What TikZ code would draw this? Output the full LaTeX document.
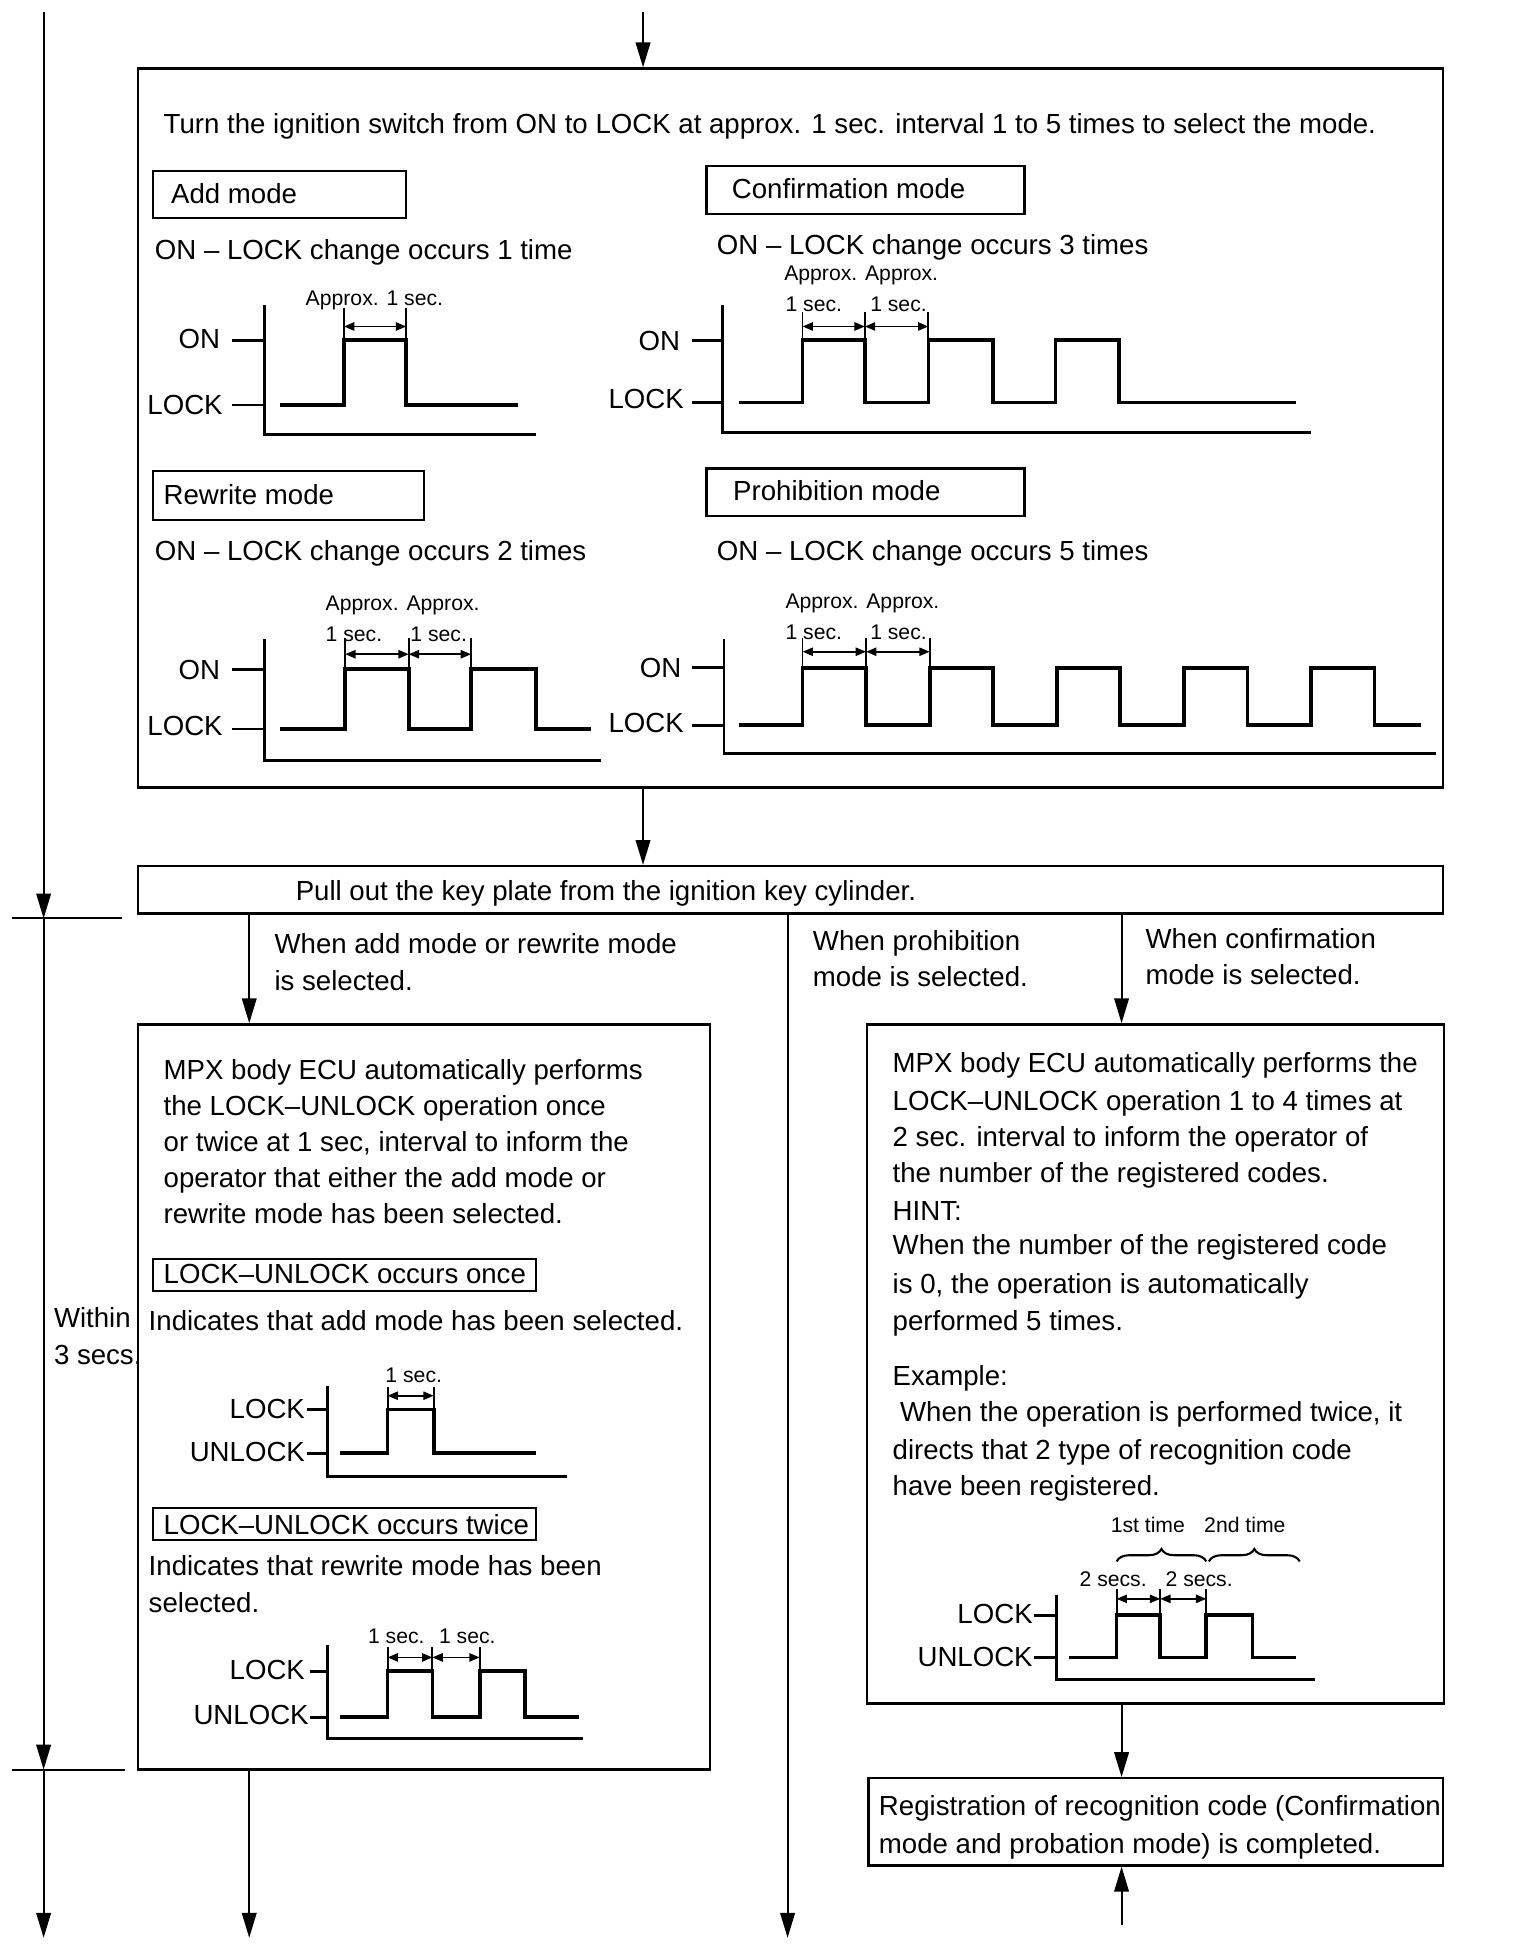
\documentclass[tikz,border=0pt]{standalone}
\usepackage{fontspec}
\setmainfont{Liberation Sans}
\usetikzlibrary{arrows.meta,fit,decorations.pathreplacing}
\newcommand\mfont{\fontsize{13.3}{16}\selectfont}
\newcommand\sfont{\fontsize{10.2}{12}\selectfont}
\begin{document}
\begin{tikzpicture}[x=0.6pt,y=-0.6pt,
 box/.style={draw,line width=1.1pt,inner sep=0pt},
 txt/.style={anchor=base west,inner sep=0pt,font=\mfont},
 lbl/.style={anchor=base east,inner sep=0pt,font=\mfont},
 sm/.style={anchor=base west,inner sep=0pt,font=\sfont},
 conn/.style={line width=1pt},
 tipd/.style={-{Triangle[length=12pt,width=7pt]}},
 wave/.style={line width=1.8pt,line join=miter},
 axisl/.style={line width=1.4pt},
 ext/.style={line width=0.9pt},
 dimarr/.style={{Triangle[length=5pt,width=4pt]}-{Triangle[length=5pt,width=4pt]},line width=0.8pt}]

\useasboundingbox (0,0) rectangle (1220,1568);
\fill[white] (0,0) rectangle (1220,1568);

% ---------- main boxes ----------
\node[box,fit={(111,55)(1158,632)}] (topbox) {};
\node[box,fit={(111,695)(1158,733)}] (key) {};
\node[box,fit={(111,822)(570,1420)}] (lbox) {};
\node[box,fit={(696,822)(1159,1367)}] (rbox) {};
\node[box,fit={(697,1427)(1158,1497)}] (fbox) {};

% mode title boxes
\node[box,fit={(123,137)(326,175)}] (addbox) {};
\node[box,fit={(567,133)(822,172)}] (confbox) {};
\node[box,fit={(123,378)(340,417)}] (rewbox) {};
\node[box,fit={(567,376)(822,414)}] (probox) {};
\node[box,fit={(123,1010)(430,1036)}] (oncebox) {};
\node[box,fit={(123,1210)(430,1236)}] (twicebox) {};

% ---------- coordinates for connectors ----------
\coordinate (c0) at (516,10);
\coordinate (c1) at (200,1555);
\coordinate (c2) at (632,1555);
\coordinate (c3) at (900,1545);
\coordinate (L0) at (35,10);
\coordinate (L1) at (35,737);
\coordinate (L2) at (35,1420);
\coordinate (L3) at (35,1555);
\coordinate (T1a) at (10,737);
\coordinate (T1b) at (98,737);
\coordinate (T2a) at (10,1420);
\coordinate (T2b) at (100,1420);

% ---------- connectors ----------
\draw[conn,tipd] (c0) -- (c0 |- topbox.north);
\draw[conn,tipd] (topbox.south -| c0) -- (c0 |- key.north);
\draw[conn,tipd] (key.south -| c1) -- (c1 |- lbox.north);
\draw[conn,tipd] (lbox.south -| c1) -- (c1);
\draw[conn,tipd] (key.south -| c2) -- (c2);
\draw[conn,tipd] (key.south -| c3) -- (c3 |- rbox.north);
\draw[conn,tipd] (rbox.south -| c3) -- (c3 |- fbox.north);
\draw[conn,tipd] (c3) -- (c3 |- fbox.south);
\draw[conn,tipd] (L0) -- (L1);
\draw[conn,tipd] (L1) -- (L2);
\draw[conn,tipd] (L2) -- (L3);
\draw[conn] (T1a) -- (T1b);
\draw[conn] (T2a) -- (T2b);

% ---------- texts ----------
\node[txt] (intro) at (131,107) {Turn the ignition switch from ON to LOCK at approx. 1 sec. interval 1 to 5 times to select the mode.};
\node[txt] (addt) at (137,163) {Add mode};
\node[txt] (adds) at (124,208) {ON -- LOCK change occurs 1 time};
\node[txt] (conft) at (587,159) {Confirmation mode};
\node[txt] (confs) at (575,204) {ON -- LOCK change occurs 3 times};
\node[txt] (rewt) at (131,405) {Rewrite mode};
\node[txt] (rews) at (124,450) {ON -- LOCK change occurs 2 times};
\node[txt] (prot) at (588,402) {Prohibition mode};
\node[txt] (pros) at (575,450) {ON -- LOCK change occurs 5 times};

\node[txt] (keyt) at (237,723) {Pull out the key plate from the ignition key cylinder.};
\node[txt] (w1a) at (220,765) {When add mode or rewrite mode};
\node[txt] (w1b) at (220,795) {is selected.};
\node[txt] (w2a) at (652,763) {When prohibition};
\node[txt] (w2b) at (652,792) {mode is selected.};
\node[txt] (w3a) at (919,761) {When confirmation};
\node[txt] (w3b) at (919,790) {mode is selected.};

\node[txt] (l1) at (131,866) {MPX body ECU automatically performs};
\node[txt] (l2) at (131,895) {the LOCK--UNLOCK operation once};
\node[txt] (l3) at (131,924) {or twice at 1 sec, interval to inform the};
\node[txt] (l4) at (131,953) {operator that either the add mode or};
\node[txt] (l5) at (131,982) {rewrite mode has been selected.};
\node[txt] (oncet) at (131,1030) {LOCK--UNLOCK occurs once};
\node[txt] (ind1) at (119,1068) {Indicates that add mode has been selected.};
\node[txt] (twicet) at (131,1231) {LOCK--UNLOCK occurs twice};
\node[txt] (ind2a) at (119,1264) {Indicates that rewrite mode has been};
\node[txt] (ind2b) at (119,1294) {selected.};
\node[txt] (within) at (43,1065) {Within};
\node[txt] (secs3) at (43,1095) {3 secs.};

\node[txt] (r1) at (716,861) {MPX body ECU automatically performs the};
\node[txt] (r2) at (716,891) {LOCK--UNLOCK operation 1 to 4 times at};
\node[txt] (r3) at (716,920) {2 sec. interval to inform the operator of};
\node[txt] (r4) at (716,949) {the number of the registered codes.};
\node[txt] (r5) at (716,979) {HINT:};
\node[txt] (r6) at (716,1007) {When the number of the registered code};
\node[txt] (r7) at (716,1038) {is 0, the operation is automatically};
\node[txt] (r8) at (716,1068) {performed 5 times.};
\node[txt] (r9) at (716,1112) {Example:};
\node[txt] (r10) at (722,1141) {When the operation is performed twice, it};
\node[txt] (r11) at (716,1171) {directs that 2 type of recognition code};
\node[txt] (r12) at (716,1200) {have been registered.};

\node[txt] (f1) at (705,1457) {Registration of recognition code (Confirmation};
\node[txt] (f2) at (705,1487) {mode and probation mode) is completed.};

% ---------- Add mode graph ----------
\node[lbl] (a-on) at (177,280) {ON};
\node[lbl] (a-lock) at (179,333) {LOCK};
\node[sm] (a-ap) at (245,245) {Approx. 1 sec.};
\draw[axisl] (212,245) -- (212,349) -- (430,349);
\draw[axisl] (186,273) -- (212,273);
\draw[axisl] (186,325) -- (212,325);
\draw[wave] (225,325) -- (276,325) -- (276,273) -- (326,273) -- (326,325) -- (416,325);
\draw[ext] (276,273) -- (276,247) (326,273) -- (326,247);
\draw[dimarr] (276,262) -- (326,262);

% ---------- Confirmation graph ----------
\node[lbl] (c-on) at (546,281) {ON};
\node[lbl] (c-lock) at (549,328) {LOCK};
\node[sm] (c-ap) at (629,225) {Approx. Approx.};
\node[sm] (c-s1) at (630,250) {1 sec.};
\node[sm] (c-s2) at (698,250) {1 sec.};
\draw[axisl] (580,245) -- (580,347) -- (1052,347);
\draw[axisl] (555,273) -- (580,273);
\draw[axisl] (555,323) -- (580,323);
\draw[wave] (593,323) -- (644,323) -- (644,273) -- (694,273) -- (694,323) -- (745,323) -- (745,273) -- (797,273) -- (797,323) -- (847,323) -- (847,273) -- (898,273) -- (898,323) -- (1040,323);
\draw[ext] (644,273) -- (644,250) (694,273) -- (694,250) (745,273) -- (745,250);
\draw[dimarr] (644,262) -- (694,262);
\draw[dimarr] (694,262) -- (745,262);

% ---------- Rewrite graph ----------
\node[lbl] (w-on) at (177,545) {ON};
\node[lbl] (w-lock) at (179,590) {LOCK};
\node[sm] (w-ap) at (261,490) {Approx. Approx.};
\node[sm] (w-s1) at (261,515) {1 sec.};
\node[sm] (w-s2) at (329,515) {1 sec.};
\draw[axisl] (212,513) -- (212,610) -- (482,610);
\draw[axisl] (186,537) -- (212,537);
\draw[axisl] (186,585) -- (212,585);
\draw[wave] (225,585) -- (277,585) -- (277,537) -- (328,537) -- (328,585) -- (378,585) -- (378,537) -- (430,537) -- (430,585) -- (474,585);
\draw[ext] (277,537) -- (277,512) (328,537) -- (328,512) (378,537) -- (378,512);
\draw[dimarr] (277,525) -- (328,525);
\draw[dimarr] (328,525) -- (378,525);

% ---------- Prohibition graph ----------
\node[lbl] (p-on) at (547,544) {ON};
\node[lbl] (p-lock) at (549,588) {LOCK};
\node[sm] (p-ap) at (630,488) {Approx. Approx.};
\node[sm] (p-s1) at (630,513) {1 sec.};
\node[sm] (p-s2) at (698,513) {1 sec.};
\draw[axisl] (581,513) -- (581,605) -- (1152,605);
\draw[axisl] (555,536) -- (581,536);
\draw[axisl] (555,582) -- (581,582);
\draw[wave] (593,582) -- (644,582) -- (644,536) -- (695,536) -- (695,582) -- (746,582) -- (746,536) -- (797,536) -- (797,582) -- (848,582) -- (848,536) -- (899,536) -- (899,582) -- (950,582) -- (950,536) -- (1001,536) -- (1001,582) -- (1052,582) -- (1052,536) -- (1103,536) -- (1103,582) -- (1140,582);
\draw[ext] (644,536) -- (644,512) (695,536) -- (695,512) (746,536) -- (746,512);
\draw[dimarr] (644,523) -- (695,523);
\draw[dimarr] (695,523) -- (746,523);

% ---------- LOCK-UNLOCK once ----------
\node[lbl] (o-lock) at (245,1138) {LOCK};
\node[lbl] (o-unlock) at (245,1173) {UNLOCK};
\node[sm] (o-s) at (309,1109) {1 sec.};
\draw[axisl] (263,1112) -- (263,1185) -- (455,1185);
\draw[axisl] (246,1131) -- (263,1131);
\draw[axisl] (246,1166) -- (263,1166);
\draw[wave] (273,1166) -- (311,1166) -- (311,1131) -- (348,1131) -- (348,1166) -- (430,1166);
\draw[ext] (311,1131) -- (311,1113) (348,1131) -- (348,1113);
\draw[dimarr] (311,1120) -- (348,1120);

% ---------- LOCK-UNLOCK twice ----------
\node[lbl] (t-lock) at (245,1348) {LOCK};
\node[lbl] (t-unlock) at (248,1384) {UNLOCK};
\node[sm] (t-s1) at (295,1319) {1 sec.};
\node[sm] (t-s2) at (352,1319) {1 sec.};
\draw[axisl] (263,1320) -- (263,1395) -- (468,1395);
\draw[axisl] (249,1341) -- (263,1341);
\draw[axisl] (249,1378) -- (263,1378);
\draw[wave] (273,1378) -- (311,1378) -- (311,1341) -- (347,1341) -- (347,1378) -- (385,1378) -- (385,1341) -- (421,1341) -- (421,1378) -- (465,1378);
\draw[ext] (311,1341) -- (311,1322) (347,1341) -- (347,1322) (385,1341) -- (385,1322);
\draw[dimarr] (311,1330) -- (347,1330);
\draw[dimarr] (347,1330) -- (385,1330);

% ---------- Confirmation example graph ----------
\node[sm] (e-1st) at (891,1230) {1st time};
\node[sm] (e-2nd) at (966,1230) {2nd time};
\draw[line width=1pt,decorate,decoration={brace,amplitude=6pt}] (896,1253) -- (968,1253);
\draw[line width=1pt,decorate,decoration={brace,amplitude=6pt}] (970,1253) -- (1043,1253);
\node[sm] (e-s1) at (866,1273) {2 secs.};
\node[sm] (e-s2) at (935,1273) {2 secs.};
\node[lbl] (e-lock) at (829,1303) {LOCK};
\node[lbl] (e-unlock) at (829,1337) {UNLOCK};
\draw[axisl] (848,1280) -- (848,1348) -- (1055,1348);
\draw[axisl] (830,1296) -- (848,1296);
\draw[axisl] (830,1330) -- (848,1330);
\draw[wave] (858,1330) -- (896,1330) -- (896,1296) -- (931,1296) -- (931,1330) -- (968,1330) -- (968,1296) -- (1005,1296) -- (1005,1330) -- (1040,1330);
\draw[ext] (896,1296) -- (896,1275) (931,1296) -- (931,1275) (968,1296) -- (968,1275);
\draw[dimarr] (896,1283) -- (931,1283);
\draw[dimarr] (931,1283) -- (968,1283);
\end{tikzpicture}
\end{document}
